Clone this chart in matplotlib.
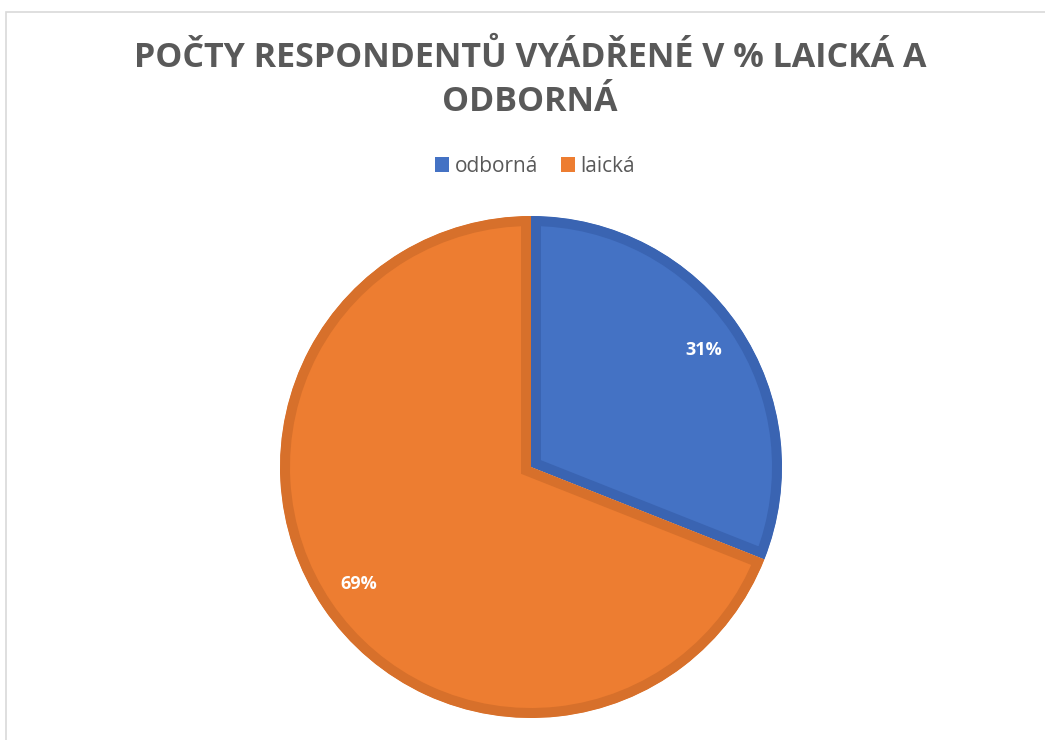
import matplotlib.pyplot as plt
from matplotlib.patches import Rectangle

labels = ['odborná', 'laická']
values = [31, 69]
colors = ['#4472C4', '#ED7D31']
edge_colors = ['#3A64B2', '#D7702B']

plt.rcParams['font.family'] = ['Open Sans', 'DejaVu Sans']

W, H = 1045, 740
fig = plt.figure(figsize=(W / 100, H / 100), dpi=100)

# light grey chart frame (top and left visible)
fig.patches.append(Rectangle((6 / W, -0.1), 1.2, (H - 12) / H + 0.1, transform=fig.transFigure,
                             fill=False, edgecolor='#D9D9D9', linewidth=1.2))

cx, cy, r = 531, H - 467, 251
ax = fig.add_axes([(cx - r) / W, (cy - r) / H, 2 * r / W, 2 * r / H])

wedges, texts, autotexts = ax.pie(values, colors=colors, startangle=90, counterclock=False,
                                  autopct='%1.0f%%', pctdistance=0.83, radius=1,
                                  textprops=dict(color='white', fontsize=13, fontweight='bold'))
for w, ec in zip(wedges, edge_colors):
    w.set_edgecolor(ec)
    w.set_linewidth(14.4)
    w.set_clip_on(True)
    w.set_clip_path(w)
ax.set_xlim(-1, 1)
ax.set_ylim(-1, 1)
ax.set_aspect('equal')

fig.text(530 / W, 1 - 58 / H, 'POČTY RESPONDENTŮ VYÁDŘENÉ V % LAICKÁ A', ha='center', va='center',
         fontsize=24.5, fontweight='bold', color='#595959')
fig.text(530 / W, 1 - 102 / H, 'ODBORNÁ', ha='center', va='center',
         fontsize=24.5, fontweight='bold', color='#595959')

fig.legend(wedges, labels, loc='center', bbox_to_anchor=(535 / W, 1 - 166 / H), ncol=2, frameon=False,
           fontsize=15, labelcolor='#595959', handlelength=0.7, handleheight=0.7,
           handletextpad=0.25, columnspacing=1.1)
for h, c in zip(fig.legends[0].legend_handles, colors):
    h.set_edgecolor(c)
    h.set_linewidth(0)

fig.savefig('out.png', dpi=100)
